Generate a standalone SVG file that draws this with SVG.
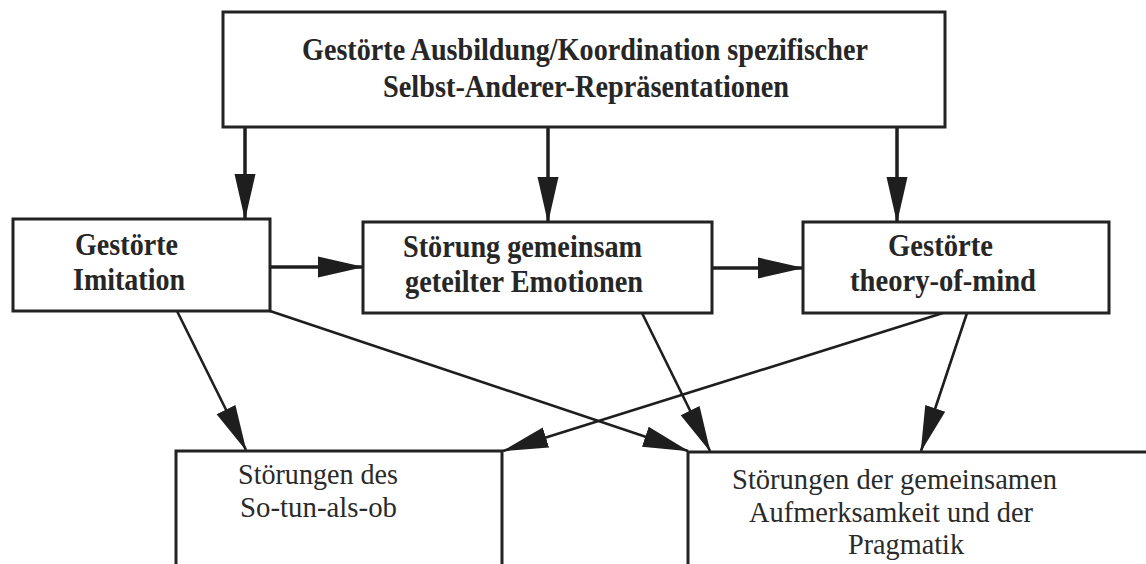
<svg xmlns="http://www.w3.org/2000/svg" width="1146" height="564" viewBox="0 0 1146 564">
  <style>
    .box { fill: #ffffff; stroke: #222222; stroke-width: 3; }
    .hd { font-family: "Liberation Serif", "Times New Roman", serif; font-weight: bold; font-size: 31px; fill: #262626; }
    .tx { font-family: "Liberation Serif", "Times New Roman", serif; font-size: 29px; fill: #2a2a2a; }
    .thick { stroke: #1e1e1e; stroke-width: 3.5; fill: none; marker-end: url(#head); }
    .thin { stroke: #1e1e1e; stroke-width: 2.6; fill: none; marker-end: url(#head); }
  </style>
  <defs>
    <marker id="head" markerUnits="userSpaceOnUse" markerWidth="46" markerHeight="24" viewBox="0 0 46 24" refX="45" refY="12" orient="auto">
      <path d="M0,1.5 L46,12 L0,22.5 Z" fill="#1e1e1e"/>
    </marker>
  </defs>
  <rect width="1146" height="564" fill="#ffffff"/>

  <g id="connectors">
    <!-- from the top box down to the three middle boxes -->
    <line class="thick" x1="245" y1="127" x2="245" y2="219"/>
    <line class="thick" x1="548" y1="127" x2="548" y2="222"/>
    <line class="thick" x1="897" y1="127" x2="897" y2="222"/>
    <!-- horizontal chain between middle boxes -->
    <line class="thick" x1="270" y1="267" x2="363" y2="267"/>
    <line class="thick" x1="712" y1="268" x2="803" y2="268"/>
    <!-- diagonals to the bottom boxes -->
    <line class="thin" x1="177" y1="311" x2="246" y2="450"/>
    <line class="thin" x1="270" y1="311" x2="688" y2="451"/>
    <line class="thin" x1="642" y1="313" x2="710" y2="451"/>
    <line class="thin" x1="943" y1="313" x2="503" y2="451"/>
    <line class="thin" x1="967" y1="313" x2="921" y2="451"/>
  </g>

  <g id="node-top">
    <rect class="box" x="223" y="12" width="722" height="115"/>
    <text class="hd" x="302" y="60" textLength="566" lengthAdjust="spacingAndGlyphs">Gestörte Ausbildung/Koordination spezifischer</text>
    <text class="hd" x="383" y="97" textLength="406" lengthAdjust="spacingAndGlyphs">Selbst-Anderer-Repräsentationen</text>
  </g>

  <g id="node-imitation">
    <rect class="box" x="13" y="219" width="257" height="92"/>
    <text class="hd" x="75" y="255" textLength="103" lengthAdjust="spacingAndGlyphs">Gestörte</text>
    <text class="hd" x="73" y="290" textLength="112" lengthAdjust="spacingAndGlyphs">Imitation</text>
  </g>

  <g id="node-emotionen">
    <rect class="box" x="363" y="222" width="349" height="91"/>
    <text class="hd" x="403" y="257" textLength="239" lengthAdjust="spacingAndGlyphs">Störung gemeinsam</text>
    <text class="hd" x="405" y="292" textLength="238" lengthAdjust="spacingAndGlyphs">geteilter Emotionen</text>
  </g>

  <g id="node-tom">
    <rect class="box" x="803" y="222" width="306" height="91"/>
    <text class="hd" x="888" y="256" textLength="105" lengthAdjust="spacingAndGlyphs">Gestörte</text>
    <text class="hd" x="850" y="291" textLength="186" lengthAdjust="spacingAndGlyphs">theory-of-mind</text>
  </g>

  <g id="node-sotun">
    <rect class="box" x="176" y="451" width="326" height="130"/>
    <text class="tx" x="238" y="484" textLength="160" lengthAdjust="spacingAndGlyphs">Störungen des</text>
    <text class="tx" x="240" y="517" textLength="157" lengthAdjust="spacingAndGlyphs">So-tun-als-ob</text>
  </g>

  <g id="node-pragmatik">
    <rect class="box" x="688" y="452" width="480" height="130"/>
    <text class="tx" x="732" y="489" textLength="325" lengthAdjust="spacingAndGlyphs">Störungen der gemeinsamen</text>
    <text class="tx" x="749" y="522" textLength="284" lengthAdjust="spacingAndGlyphs">Aufmerksamkeit und der</text>
    <text class="tx" x="848" y="554" textLength="116" lengthAdjust="spacingAndGlyphs">Pragmatik</text>
  </g>
</svg>
